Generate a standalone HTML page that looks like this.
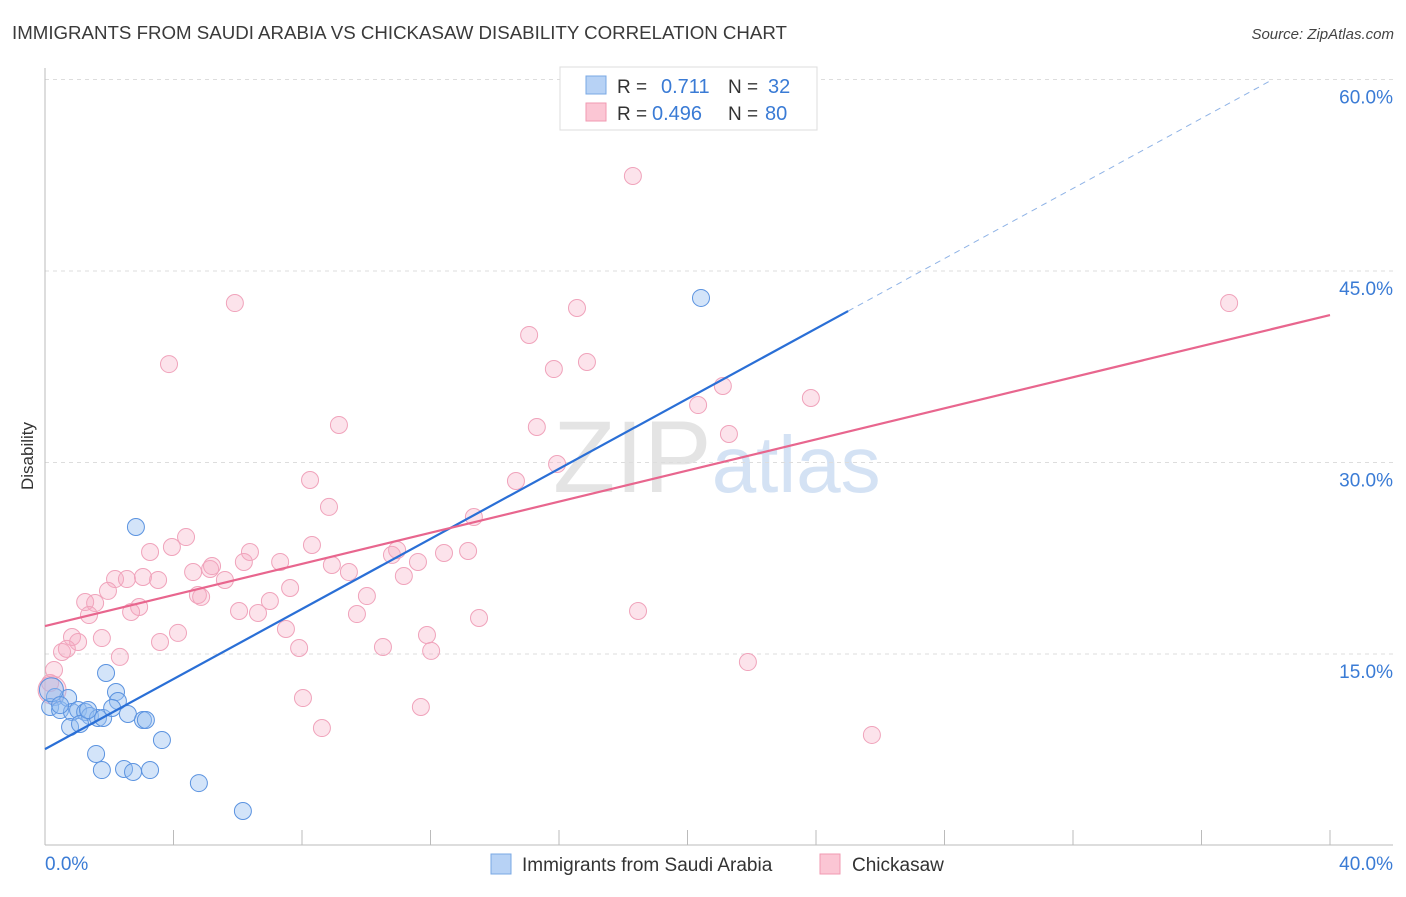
<!DOCTYPE html>
<html><head><meta charset="utf-8"><style>
body{margin:0;background:#fff;font-family:"Liberation Sans",sans-serif;}
svg text{font-family:"Liberation Sans",sans-serif;}
</style></head><body>
<svg id="chart" width="1406" height="892" xmlns="http://www.w3.org/2000/svg">
<text x="12" y="39" font-size="18.7" fill="#3a3a3a">IMMIGRANTS FROM SAUDI ARABIA VS CHICKASAW DISABILITY CORRELATION CHART</text>
<text x="1394" y="39" font-size="15" fill="#444" text-anchor="end" font-style="italic">Source: ZipAtlas.com</text>
<text x="553" y="492" font-size="102" fill="#e4e4e4" font-family="Liberation Serif">ZIP<tspan fill="#d4e2f4" font-family="Liberation Sans" font-size="80">atlas</tspan></text>
<text transform="translate(33,456) rotate(-90)" font-size="17" fill="#333" text-anchor="middle">Disability</text>
<g id="grid"></g><g id="axes"></g><g id="pink"></g><g id="blue"></g><g id="lines"></g>
<g>
<rect x="560" y="67" width="257" height="63" fill="#fff" stroke="#ddd"/>
<rect x="586" y="76" width="20" height="18" fill="#b7d2f5" stroke="#7aa8e4"/>
<text x="617" y="93" font-size="19" fill="#333">R = </text><text x="661" y="93" font-size="20" fill="#3a7bd5">0.711</text>
<text x="728" y="93" font-size="19" fill="#333">N = </text><text x="768" y="93" font-size="20" fill="#3a7bd5">32</text>
<rect x="586" y="103" width="20" height="18" fill="#fbc6d4" stroke="#f09ab2"/>
<text x="617" y="120" font-size="19" fill="#333">R = </text><text x="652" y="120" font-size="20" fill="#3a7bd5">0.496</text>
<text x="728" y="120" font-size="19" fill="#333">N = </text><text x="765" y="120" font-size="20" fill="#3a7bd5">80</text>
</g>
<g>
<rect x="491" y="854" width="20" height="20" fill="#b7d2f5" stroke="#7aa8e4"/>
<text x="522" y="871" font-size="19" fill="#333">Immigrants from Saudi Arabia</text>
<rect x="820" y="854" width="20" height="20" fill="#fbc6d4" stroke="#f09ab2"/>
<text x="852" y="871" font-size="19" fill="#333">Chickasaw</text>
</g>
</svg>
<script>
const blueX=[2.83,20.42,1.90,2.21,2.27,0.31,0.16,0.47,0.72,0.84,1.03,1.25,1.40,1.65,1.81,2.09,2.58,3.05,3.14,0.78,1.09,1.59,1.77,2.46,2.74,3.27,3.64,4.79,6.16,0.2,1.34,0.47];
const blueY=[24.95,42.89,13.51,12.02,11.32,11.63,10.85,10.61,11.55,10.46,10.61,10.46,10.14,9.99,9.99,10.77,10.30,9.83,9.83,9.28,9.52,7.17,5.91,5.99,5.76,5.91,8.26,4.89,2.70,12.2,10.61,11.0];
const pinkX=[18.30,5.91,3.86,16.56,15.07,16.87,15.84,9.15,15.31,21.10,20.33,21.29,23.84,36.86,8.25,8.84,14.66,15.94,13.35,4.39,3.27,3.95,6.38,6.19,7.32,8.31,8.93,9.46,10.80,10.96,11.61,12.42,13.17,11.17,4.61,5.14,5.20,5.60,2.18,2.55,3.05,3.52,1.96,2.93,2.68,1.25,1.56,1.37,4.76,4.86,6.04,6.63,7.00,7.63,7.50,10.02,9.71,7.91,10.52,11.89,12.02,13.51,18.46,21.88,4.14,3.58,1.77,2.33,0.84,1.03,0.53,0.68,0.28,0.16,8.03,8.62,11.70,25.74,0.22];
const pinkY=[52.44,42.49,37.71,42.10,39.99,37.87,37.32,32.94,32.78,35.99,34.50,32.23,35.05,42.49,28.63,26.52,28.55,29.88,25.73,24.16,22.99,23.38,22.99,22.21,22.21,23.54,21.97,21.42,22.76,23.15,22.21,22.91,23.07,21.11,21.42,21.66,21.89,20.80,20.87,20.87,21.03,20.80,19.94,18.68,18.29,19.07,18.99,18.05,19.62,19.47,18.37,18.21,19.15,20.17,16.96,19.54,18.13,15.47,15.55,16.49,15.24,17.82,18.37,14.37,16.65,15.94,16.25,14.77,16.33,15.94,15.16,15.40,13.75,12.73,11.55,9.20,10.85,8.66,12.18];
const blueLine=[7.55,1.3724]; // intercept, slope
const pinkLine=[17.19,0.609];
const yTicks=[15,30,45,60];
const yTickLabels=["15.0%","30.0%","45.0%","60.0%"];
const xTicks=[0,4,8,12,16,20,24,28,32,36,40];
const ns="http://www.w3.org/2000/svg";
const X=v=>45+v*(1285/40);
const Y=v=>845.5-v*(191.5/15);
function mk(tag,attrs,parent){const e=document.createElementNS(ns,tag);for(const k in attrs)e.setAttribute(k,attrs[k]);document.getElementById(parent).appendChild(e);return e;}
yTicks.forEach((t,i)=>{
 const g=mk('line',{x1:45,x2:1393,y1:Y(t),y2:Y(t),stroke:'#ddd','stroke-dasharray':'4,4'},'grid');
 
 
 const tx=mk('text',{x:1393,y:Y(t)+24,'font-size':19,fill:'#3a7bd5','text-anchor':'end'},'grid');
 tx.textContent=yTickLabels[i];
 
 
});
const ax=mk('line',{x1:45,x2:45,y1:68,y2:845,stroke:'#bbb'},'axes');


const bx=mk('line',{x1:45,x2:1393,y1:845,y2:845,stroke:'#bbb'},'axes');


xTicks.forEach(t=>{if(t>0){const l=mk('line',{x1:X(t),x2:X(t),y1:830,y2:845,stroke:'#bbb'},'axes');
 
 }});
const xl0=mk('text',{x:45,y:870,'font-size':19,fill:'#3a7bd5'},'axes');xl0.textContent='0.0%';


const xl1=mk('text',{x:1393,y:870,'font-size':19,fill:'#3a7bd5','text-anchor':'end'},'axes');xl1.textContent='40.0%';


pinkX.forEach((v,i)=>{const c=mk('circle',{cx:X(v),cy:Y(pinkY[i]),r:i===pinkX.length-1?14:8.5,fill:'rgba(246,170,195,0.33)',stroke:'#f0a3bb','stroke-width':1},'pink');
 
 });
blueX.forEach((v,i)=>{const c=mk('circle',{cx:X(v),cy:Y(blueY[i]),r:i===29?12:8.5,fill:'rgba(150,190,240,0.42)',stroke:'#5b93e0','stroke-width':1},'blue');
 
 });
const bl=mk('line',{x1:X(0),y1:Y(blueLine[0]),x2:X(25),y2:Y(blueLine[0]+25*blueLine[1]),stroke:'#2a6fd6','stroke-width':2.2},'lines');


const xe=(60-blueLine[0])/blueLine[1];
const bd=mk('line',{x1:X(25),y1:Y(blueLine[0]+25*blueLine[1]),x2:X(xe),y2:Y(60),stroke:'#8fb3e6','stroke-width':1,'stroke-dasharray':'6,5'},'lines');


const pl=mk('line',{x1:X(0),y1:Y(pinkLine[0]),x2:X(40),y2:Y(pinkLine[0]+40*pinkLine[1]),stroke:'#e8668e','stroke-width':2.2},'lines');


</script>
</body></html>
